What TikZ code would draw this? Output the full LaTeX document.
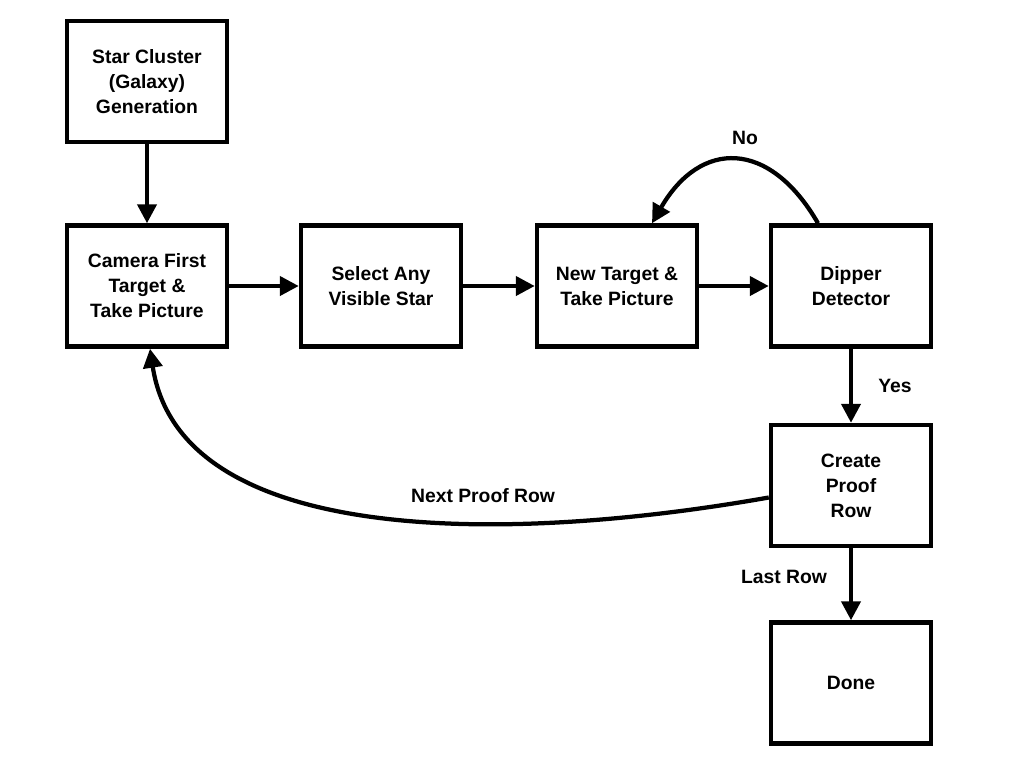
\documentclass[tikz,border=0pt]{standalone}
\usepackage{fontspec}
\setmainfont{Liberation Sans}
\usetikzlibrary{arrows.meta}
\begin{document}
\begin{tikzpicture}[x=0.02cm, y=-0.02cm, boxStyle/.style={rectangle, draw, line width=0.09cm, minimum width=3.2cm, minimum height=2.42cm, align=center, font=\fontsize{11}{14.2}\selectfont\bfseries}, labelStyle/.style={font=\fontsize{11}{14.2}\selectfont\bfseries}, arrowStyle/.style={line width=0.085cm, -{Triangle[length=0.38cm, width=0.38cm]}}]
                    \useasboundingbox (0, 0) rectangle (1024, 768);

                    \node[boxStyle] (cluster) at (147, 81.5) {Star Cluster\\(Galaxy)\\Generation};
                    \node[boxStyle] (camera)  at (147, 286) {Camera First\\Target \&\\Take Picture};
                    \node[boxStyle] (select)  at (381, 286) {Select Any\\Visible Star};
                    \node[boxStyle] (target)  at (617, 286) {New Target \&\\Take Picture};
                    \node[boxStyle] (dipper)  at (851, 286) {Dipper\\Detector};
                    \node[boxStyle] (proof)   at (851, 485.5) {Create\\Proof\\Row};
                    \node[boxStyle] (done)    at (851, 683) {Done};

                    \node[labelStyle] (no)      at (745, 138) {No};
                    \node[labelStyle] (yes)     at (895, 386) {Yes};
                    \node[labelStyle] (lastrow) at (784, 577) {Last Row};
                    \node[labelStyle] (nextrow) at (483, 496) {Next Proof Row};

                    \draw[arrowStyle] (cluster.south) -- (camera.north);
                    \draw[arrowStyle] (camera.east) -- (select.west);
                    \draw[arrowStyle] (select.east) -- (target.west);
                    \draw[arrowStyle] (target.east) -- (dipper.west);
                    \draw[arrowStyle] (dipper.south) -- (proof.north);
                    \draw[arrowStyle] (proof.south) -- (done.north);

                    \draw[arrowStyle] ([xshift=-0.66cm]dipper.north) to[out=120, in=60, looseness=1.5] ([xshift=0.7cm]target.north);
                    \draw[arrowStyle] ([yshift=-0.24cm]proof.west) .. controls (500, 545) and (180, 545) .. ([xshift=0.06cm]camera.south);
                \end{tikzpicture}
\end{document}
